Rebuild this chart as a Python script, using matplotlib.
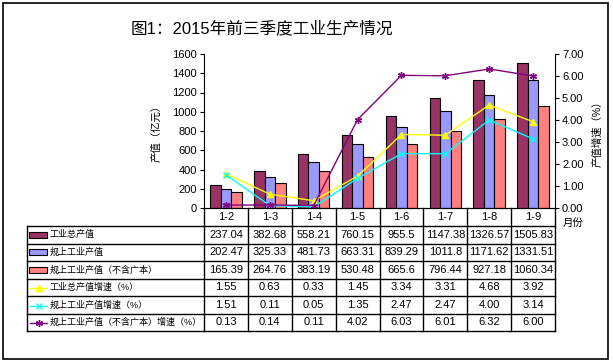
import numpy as np
import matplotlib
matplotlib.use('Agg')
import matplotlib.pyplot as plt
from matplotlib.patches import Rectangle
from matplotlib.lines import Line2D

plt.rcParams['font.family'] = ['Liberation Sans', 'Noto Sans CJK SC', 'DejaVu Sans']

# data
months = ['1-2', '1-3', '1-4', '1-5', '1-6', '1-7', '1-8', '1-9']
total_output = [237.04, 382.68, 558.21, 760.15, 955.5, 1147.38, 1326.57, 1505.83]
above_output = [202.47, 325.33, 481.73, 663.31, 839.29, 1011.8, 1171.62, 1331.51]
above_no_gb = [165.39, 264.76, 383.19, 530.48, 665.6, 796.44, 927.18, 1060.34]
total_growth = [1.55, 0.63, 0.33, 1.45, 3.34, 3.31, 4.68, 3.92]
above_growth = [1.51, 0.11, 0.05, 1.35, 2.47, 2.47, 4.00, 3.14]
no_gb_growth = [0.13, 0.14, 0.11, 4.02, 6.03, 6.01, 6.32, 6.00]

names = ['工业总产值', '规上工业产值', '规上工业产值（不含广本）',
         '工业总产值增速（%）', '规上工业产值增速（%）', '规上工业产值（不含广本）增速（%）']
bar_colors = ['#993366', '#9999FF', '#FF8080']
line_colors = ['#FFFF00', '#00FFFF', '#800080']
line_markers = ['^', 'x', (6, 2, 0)]

W, H = 613, 364
fig = plt.figure(figsize=(W / 100, H / 100), dpi=100)

def fx(px):
    return px / W

def fy(py):
    return 1 - py / H

# background axes in pixel coords for the table and frame
tax = fig.add_axes([0, 0, 1, 1])
tax.set_xlim(0, W)
tax.set_ylim(H, 0)
tax.axis('off')
tax.add_patch(Rectangle((3, 3), 605, 356, fill=False, ec='black', lw=1.2))

# main chart
x0, x1, ytop, ybot = 204, 555, 54, 208
ax = fig.add_axes([fx(x0), fy(ybot), fx(x1) - fx(x0), fy(ytop) - fy(ybot)])
ax.set_facecolor('none')
x = np.arange(len(months))
bw = 0.24
bar_series = [total_output, above_output, above_no_gb]
for i, s in enumerate(bar_series):
    ax.bar(x + (i - 1) * bw, s, bw, color=bar_colors[i], edgecolor='black', linewidth=0.8)
ax.set_xlim(-0.5, len(months) - 0.5)
ax.set_ylim(0, 1600)
ax.set_yticks(np.arange(0, 1601, 200))
ax.set_xticks([])
ax.spines['top'].set_visible(False)
ax.spines['right'].set_visible(False)
ax.tick_params(axis='y', labelsize=8, length=3, pad=2)
ax.set_ylabel('产值（亿元）', fontsize=7.5, labelpad=8)

ax2 = ax.twinx()
line_series = [total_growth, above_growth, no_gb_growth]
for i, s in enumerate(line_series):
    ax2.plot(x, s, color=line_colors[i], marker=line_markers[i], markersize=5,
             markeredgewidth=1, linewidth=1)
ax2.set_ylim(0, 7)
ax2.set_yticks(np.arange(0, 7.01, 1))
ax2.set_yticklabels(['%.2f' % v for v in np.arange(0, 7.01, 1)])
ax2.spines['top'].set_visible(False)
ax2.spines['left'].set_visible(False)
ax2.tick_params(axis='y', labelsize=8, length=3, pad=2)
ax2.set_ylabel('产值增速（%）', fontsize=7.5, rotation=90, labelpad=6)

# title
fig.text(fx(262), fy(28), '图1：2015年前三季度工业生产情况', fontsize=12,
         ha='center', va='center')

# table
cw = (x1 - x0) / len(months)
row_top = 226
rh = 17.5
nrows = 6
tbot = row_top + rh * nrows
for r in range(nrows + 1):
    tax.plot([27, x1], [row_top + r * rh] * 2, color='black', lw=1)
tax.plot([27, 27], [row_top, tbot], color='black', lw=1)
for i in range(len(months) + 1):
    tax.plot([x0 + i * cw] * 2, [ybot, tbot], color='black', lw=1)
for i, m in enumerate(months):
    tax.text(x0 + (i + 0.5) * cw, (ybot + row_top) / 2, m, ha='center', va='center', fontsize=8)
tax.text(563, 223, '月份', ha='left', va='center', fontsize=7.5)

rows = bar_series + line_series
for r in range(nrows):
    yc = row_top + (r + 0.5) * rh
    for i in range(len(months)):
        v = rows[r][i]
        txt = '%g' % v if r < 3 else '%.2f' % v
        tax.text(x0 + (i + 0.5) * cw, yc, txt, ha='center', va='center', fontsize=8)
    if r < 3:
        tax.add_patch(Rectangle((29, yc - 3), 18, 6, fc=bar_colors[r], ec='black', lw=0.8))
    else:
        k = r - 3
        tax.add_line(Line2D([30, 47], [yc + 1, yc + 1], color=line_colors[k], lw=1))
        tax.plot([38.5], [yc + 1], marker=line_markers[k], color=line_colors[k],
                 markersize=5, markeredgewidth=1)
    tax.text(50, yc, names[r], ha='left', va='center', fontsize=6.5)

plt.savefig('out.png', dpi=100)
plt.close(fig)
